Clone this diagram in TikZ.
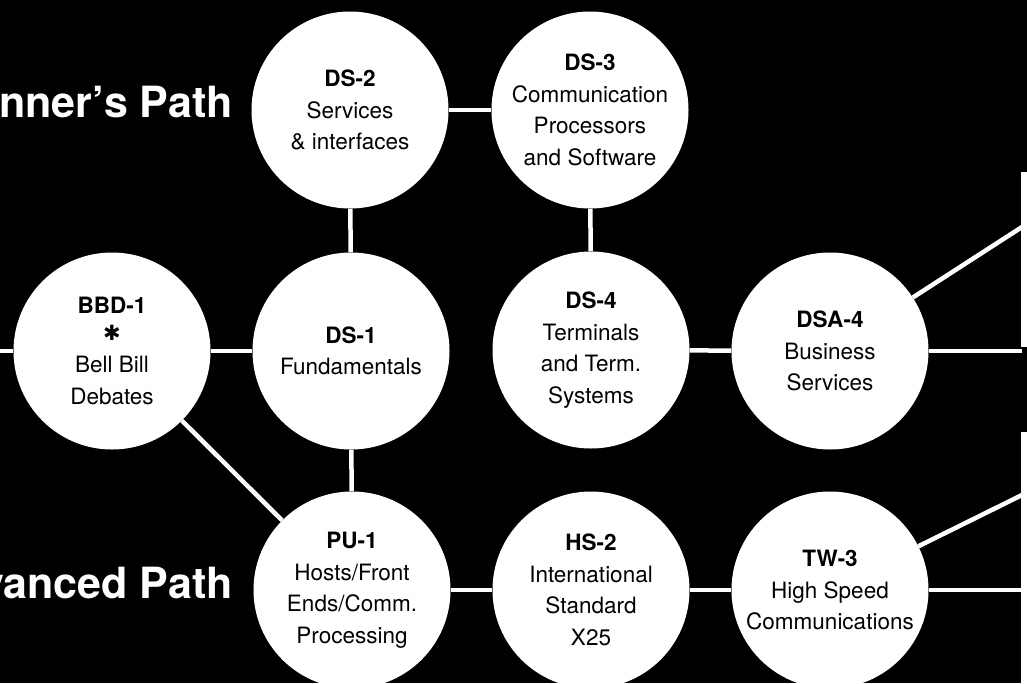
\documentclass[tikz,border=0pt]{standalone}
\usepackage{fontspec}
\setmainfont{TeX Gyre Heros}
\newfontfamily\dejavu{DejaVu Sans}
\begin{document}
\begin{tikzpicture}[x=1pt,y=-1pt,
  bub/.style={circle,fill=white,minimum size=197pt,inner sep=0pt,
    align=center,text=black,font=\fontsize{22.5}{31.5}\selectfont},
  conn/.style={draw=white,line width=4.5pt},
  title/.style={text=white,font=\fontsize{43}{47}\selectfont\bfseries,anchor=base east,inner sep=0pt},
  edgestrip/.style={fill=white}]
\useasboundingbox (0,0) rectangle (1027,683);
\fill[black] (0,0) rectangle (1027,683);
% right-edge strips (next page)
\fill[edgestrip] (1021,172) rectangle (1027,347);
\fill[edgestrip] (1021,432) rectangle (1027,683);
% titles
\node[title] (tb) at (233,117) {Beginner’s Path};
\node[title] (ta) at (233,598) {Advanced Path};
% circles
\node[bub] (bbd) at (112,351) {\textbf{BBD-1}\\[-5pt]{\dejavu\fontsize{21}{22}\selectfont ✱}\\[1pt]Bell Bill\\Debates};
\node[bub] (ds1) at (351,351) {\textbf{DS-1}\\Fundamentals};
\node[bub] (ds2) at (350,110) {\textbf{DS-2}\\Services\\\& interfaces};
\node[bub] (ds3) at (590,110) {\textbf{DS-3}\\Communication\\Processors\\and Software};
\node[bub] (ds4) at (591,350) {\textbf{DS-4}\\Terminals\\and Term.\\Systems};
\node[bub] (dsa4) at (830,351) {\textbf{DSA-4}\\Business\\Services};
\node[bub] (pu1) at (352,590) {\textbf{PU-1}\\Hosts/Front\\Ends/Comm.\\Processing};
\node[bub] (hs2) at (591,590) {\textbf{HS-2}\\International\\Standard\\X25};
\node[bub] (tw3) at (830,590) {\textbf{TW-3}\\High Speed\\Communications};
% free ends
\coordinate (l0) at (0,351);
\coordinate (r1) at (1022,227);
\coordinate (r2) at (1022,351);
\coordinate (r3) at (1022,495);
\coordinate (r4) at (1022,590);
% connectors
\draw[conn] (l0) -- (bbd);
\draw[conn] (bbd) -- (ds1);
\draw[conn] (bbd) -- (pu1);
\draw[conn] (ds1) -- (ds2);
\draw[conn] (ds2) -- (ds3);
\draw[conn] (ds3) -- (ds4);
\draw[conn] (ds1) -- (pu1);
\draw[conn] (ds4) -- (dsa4);
\draw[conn] (pu1) -- (hs2);
\draw[conn] (hs2) -- (tw3);
\draw[conn] (dsa4) -- (r1);
\draw[conn] (dsa4) -- (r2);
\draw[conn] (tw3) -- (r3);
\draw[conn] (tw3) -- (r4);
\end{tikzpicture}
\end{document}
